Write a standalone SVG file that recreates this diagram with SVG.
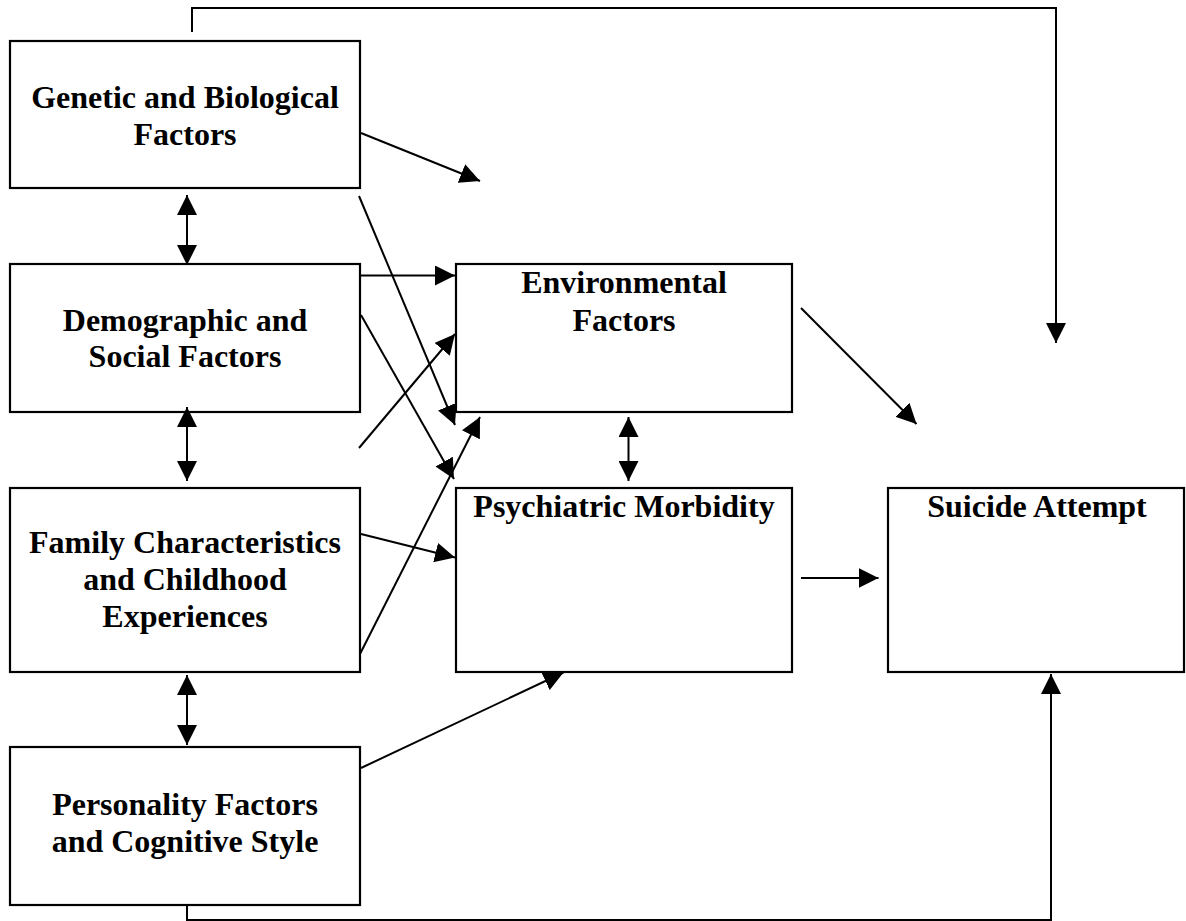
<svg xmlns="http://www.w3.org/2000/svg" width="1186" height="921" viewBox="0 0 1186 921">
<defs>
<style>
.box{fill:#fff;stroke:#000;stroke-width:2.2}
.lbl{font-family:"Liberation Serif","Times New Roman",serif;font-weight:bold;font-size:32px;fill:#000;text-anchor:middle}
.c{fill:none;stroke:#000;stroke-width:2}
.a{marker-end:url(#ah)}
.d{marker-start:url(#ah);marker-end:url(#ah)}
</style>
<marker id="ah" markerUnits="userSpaceOnUse" markerWidth="20" markerHeight="20" viewBox="0 0 20 20" refX="20" refY="10" orient="auto-start-reverse">
<path d="M0,0 L20,10 L0,20 Z" fill="#000"/>
</marker>
</defs>
<rect width="1186" height="921" fill="#fff"/>
<g id="genetic">
<rect class="box" x="10" y="41" width="350" height="147"/>
<text class="lbl" x="185" y="108">Genetic and Biological</text>
<text class="lbl" x="185" y="145">Factors</text>
</g>
<g id="demographic">
<rect class="box" x="10" y="264" width="350" height="148"/>
<text class="lbl" x="185" y="331">Demographic and</text>
<text class="lbl" x="185" y="367">Social Factors</text>
</g>
<g id="family">
<rect class="box" x="10" y="488" width="350" height="184"/>
<text class="lbl" x="185" y="553">Family Characteristics</text>
<text class="lbl" x="185" y="590">and Childhood</text>
<text class="lbl" x="185" y="627">Experiences</text>
</g>
<g id="personality">
<rect class="box" x="10" y="747" width="350" height="158"/>
<text class="lbl" x="185" y="815">Personality Factors</text>
<text class="lbl" x="185" y="852">and Cognitive Style</text>
</g>
<g id="environmental">
<rect class="box" x="456" y="264" width="336" height="148"/>
<text class="lbl" x="624" y="293">Environmental</text>
<text class="lbl" x="624" y="331">Factors</text>
</g>
<g id="psychiatric">
<rect class="box" x="456" y="488" width="336" height="184"/>
<text class="lbl" x="624" y="517">Psychiatric Morbidity</text>
</g>
<g id="suicide">
<rect class="box" x="888" y="488" width="296" height="184"/>
<text class="lbl" x="1037" y="517">Suicide Attempt</text>
</g>
<g id="connectors">
<path class="c a" d="M192,32 V8 H1056 V343"/>
<path class="c a" d="M187,904 V920 H1051 V674"/>
<line class="c d" x1="187" y1="195" x2="187" y2="265"/>
<line class="c d" x1="187" y1="407" x2="187" y2="481"/>
<line class="c d" x1="187" y1="675" x2="187" y2="745"/>
<line class="c d" x1="628.5" y1="417" x2="628.5" y2="481"/>
<line class="c a" x1="361" y1="133" x2="480" y2="181"/>
<line class="c a" x1="359" y1="196" x2="455" y2="425"/>
<line class="c a" x1="361" y1="275.5" x2="455" y2="275.5"/>
<line class="c a" x1="361" y1="315" x2="454" y2="479"/>
<line class="c a" x1="359" y1="448" x2="455" y2="334"/>
<line class="c a" x1="361" y1="534" x2="455" y2="557.5"/>
<line class="c a" x1="360" y1="654" x2="480" y2="417"/>
<line class="c a" x1="361" y1="768" x2="563.5" y2="672.5"/>
<line class="c a" x1="801" y1="308" x2="916.5" y2="424"/>
<line class="c a" x1="801" y1="578" x2="878.5" y2="578"/>
</g>
</svg>
